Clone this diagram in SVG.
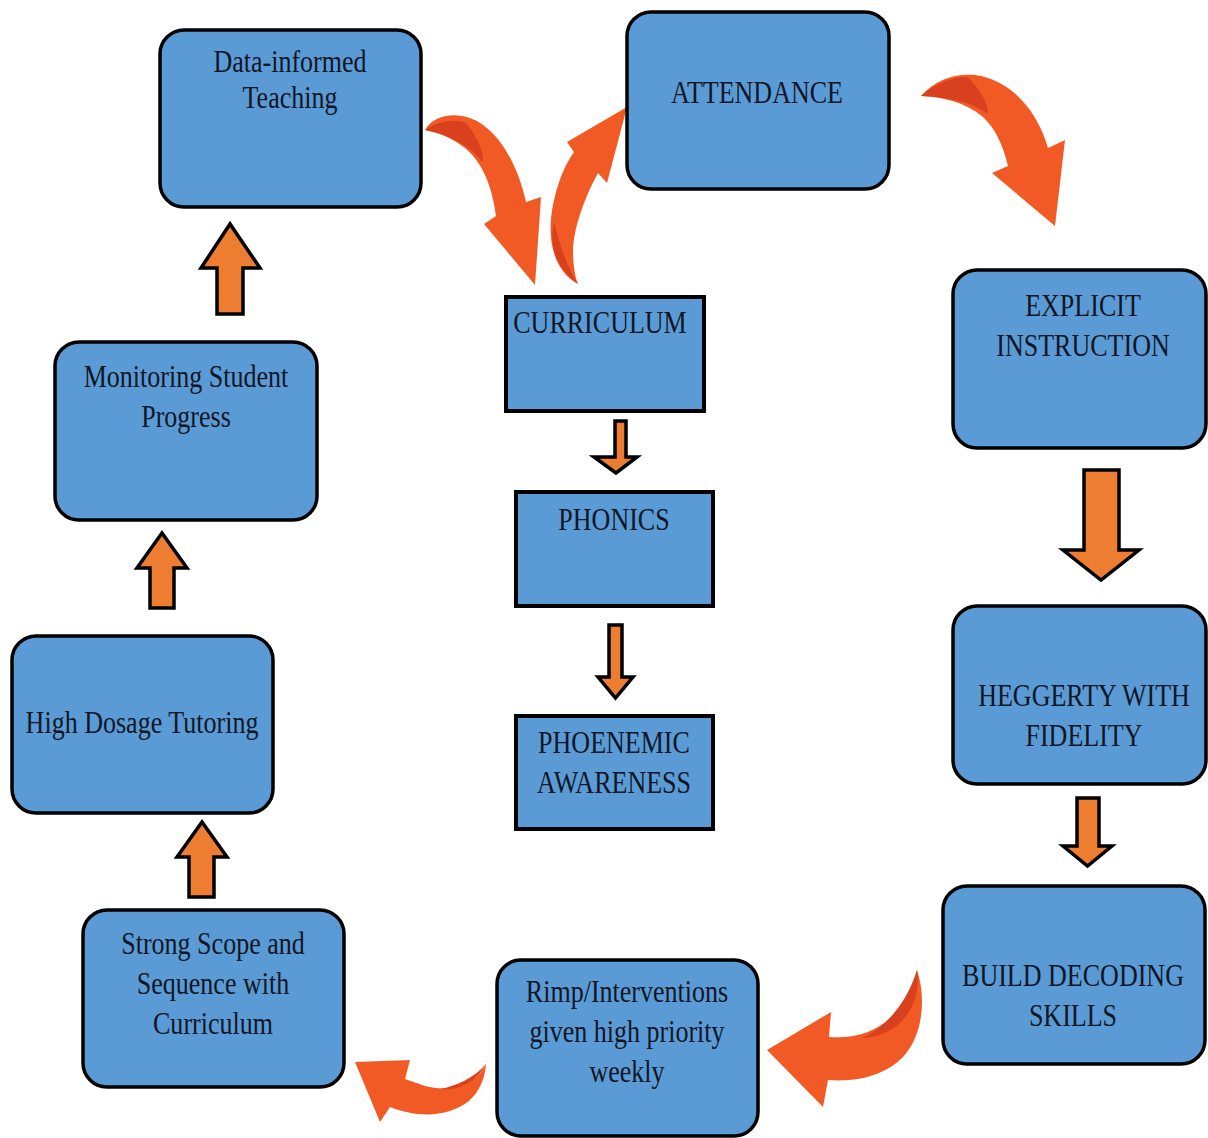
<svg xmlns="http://www.w3.org/2000/svg" width="1208" height="1138" viewBox="0 0 1208 1138">
<style>
.box{fill:#5B9BD5;stroke:#000;stroke-width:3.5}
.sq{fill:#5B9BD5;stroke:#000;stroke-width:4}
.t{font-family:"Liberation Serif","Times New Roman",serif;font-size:31px;fill:#0f1626;text-anchor:middle}
.blk{fill:#ED7D31;stroke:#000;stroke-width:3.5;stroke-linejoin:miter}
.crv{fill:#F15A24}
.drk{fill:#D9411E}
</style>
<rect width="1208" height="1138" fill="#fff"/>
<g id="connectors">
  <g id="c-data-curr">
    <path class="crv" d="M425,130 C433,116 452,112 470,118 C498,128 518,165 526,202 L541,197 L535,285 L484,224 L496,216 C492,185 482,162 465,148 C452,138 438,132 425,130 Z"/>
    <path class="drk" d="M425,130 C440,120 457,119 466,123 C478,138 484,152 483,162 C470,146 450,135 425,130 Z"/>
  </g>
  <g id="c-curr-att">
    <path class="crv" d="M578,284 C554,271 546,240 553,205 C558,180 566,163 574,152 L567,142 L627,107 L607,183 L598,173 C586,195 574,225 573,250 C573,265 575,277 578,284 Z"/>
    <path class="drk" d="M578,284 C555,268 549,245 554,222 C560,245 566,265 578,284 Z"/>
  </g>
  <g id="c-att-expl">
    <path class="crv" d="M921,96 C935,80 955,73 975,75 C1012,80 1038,112 1048,148 L1065,140 L1055,226 L992,173 L1008,166 C1003,145 995,128 983,117 C965,102 943,97 921,96 Z"/>
    <path class="drk" d="M921,96 C938,81 957,76 968,77 C982,92 988,104 988,114 C970,101 945,97 921,96 Z"/>
  </g>
  <g id="c-build-rimp">
    <path class="crv" d="M917,970 C927,1000 922,1038 902,1058 C882,1077 855,1082 828,1080 L823,1107 L767,1050 L831,1012 L829,1037 C855,1039 875,1032 890,1018 C905,1004 914,988 917,970 Z"/>
    <path class="drk" d="M917,970 C920,992 913,1012 897,1026 C883,1035 870,1038 862,1038 C887,1027 907,1002 917,970 Z"/>
  </g>
  <g id="c-rimp-strong">
    <path class="crv" d="M486,1064 C476,1085 450,1093 425,1086 L405,1079 L410,1060 L355,1062 L380,1122 L390,1107 C420,1119 450,1116 469,1101 C480,1091 485,1078 486,1064 Z"/>
    <path class="drk" d="M486,1064 C476,1083 458,1091 440,1089 C456,1086 474,1078 486,1064 Z"/>
  </g>
  <polygon class="blk" points="615,421 626,421 626,457 637,457 616,473 594,457 615,457"/>
  <polygon class="blk" points="609,625 622,625 622,677 633,677 615.5,698 598,677 609,677"/>
  <polygon class="blk" points="1084,470 1119,470 1119,550 1139,550 1101,580 1063,550 1084,550"/>
  <polygon class="blk" points="1077,798 1099,798 1099,846 1112,846 1087.5,866 1063,846 1077,846"/>
  <polygon class="blk" points="217,314 243,314 243,268 260,268 230,224 201,268 217,268"/>
  <polygon class="blk" points="150,608 174,608 174,568 187,568 162,533 137,568 150,568"/>
  <polygon class="blk" points="189,897 214,897 214,857 227,857 202,822 177,857 189,857"/>
</g>
<g id="n-data">
  <rect class="box" x="160" y="30" width="261" height="177" rx="24"/>
  <text class="t" transform="translate(290,72) scale(0.84,1)"><tspan x="0" y="0">Data-informed</tspan><tspan x="0" y="36">Teaching</tspan></text>
</g>
<g id="n-attendance">
  <rect class="box" x="627" y="12" width="262" height="177" rx="24"/>
  <text class="t" transform="translate(757,103) scale(0.84,1)">ATTENDANCE</text>
</g>
<g id="n-explicit">
  <rect class="box" x="953" y="270" width="253" height="178" rx="24"/>
  <text class="t" transform="translate(1083,316) scale(0.84,1)"><tspan x="0" y="0">EXPLICIT</tspan><tspan x="0" y="40">INSTRUCTION</tspan></text>
</g>
<g id="n-heggerty">
  <rect class="box" x="953" y="606" width="253" height="178" rx="24"/>
  <text class="t" transform="translate(1084,706) scale(0.84,1)"><tspan x="0" y="0">HEGGERTY WITH</tspan><tspan x="0" y="40">FIDELITY</tspan></text>
</g>
<g id="n-build">
  <rect class="box" x="943" y="886" width="262" height="178" rx="24"/>
  <text class="t" transform="translate(1073,986) scale(0.84,1)"><tspan x="0" y="0">BUILD DECODING</tspan><tspan x="0" y="40">SKILLS</tspan></text>
</g>
<g id="n-rimp">
  <rect class="box" x="497" y="960" width="261" height="176" rx="24"/>
  <text class="t" transform="translate(627,1002) scale(0.84,1)"><tspan x="0" y="0">Rimp/Interventions</tspan><tspan x="0" y="40">given high priority</tspan><tspan x="0" y="80">weekly</tspan></text>
</g>
<g id="n-strong">
  <rect class="box" x="83" y="910" width="261" height="177" rx="24"/>
  <text class="t" transform="translate(213,954) scale(0.84,1)"><tspan x="0" y="0">Strong Scope and</tspan><tspan x="0" y="40">Sequence with</tspan><tspan x="0" y="80">Curriculum</tspan></text>
</g>
<g id="n-tutoring">
  <rect class="box" x="12" y="636" width="261" height="177" rx="24"/>
  <text class="t" transform="translate(142,733) scale(0.84,1)">High Dosage Tutoring</text>
</g>
<g id="n-monitoring">
  <rect class="box" x="55" y="342" width="262" height="178" rx="24"/>
  <text class="t" transform="translate(186,387) scale(0.84,1)"><tspan x="0" y="0">Monitoring Student</tspan><tspan x="0" y="40">Progress</tspan></text>
</g>
<g id="n-curriculum">
  <rect class="sq" x="506" y="297" width="198" height="114"/>
  <text class="t" transform="translate(600,333) scale(0.84,1)">CURRICULUM</text>
</g>
<g id="n-phonics">
  <rect class="sq" x="516" y="492" width="197" height="114"/>
  <text class="t" transform="translate(614,530) scale(0.84,1)">PHONICS</text>
</g>
<g id="n-phonemic">
  <rect class="sq" x="516" y="716" width="197" height="113"/>
  <text class="t" transform="translate(614,753) scale(0.84,1)"><tspan x="0" y="0">PHOENEMIC</tspan><tspan x="0" y="40">AWARENESS</tspan></text>
</g>
</svg>
